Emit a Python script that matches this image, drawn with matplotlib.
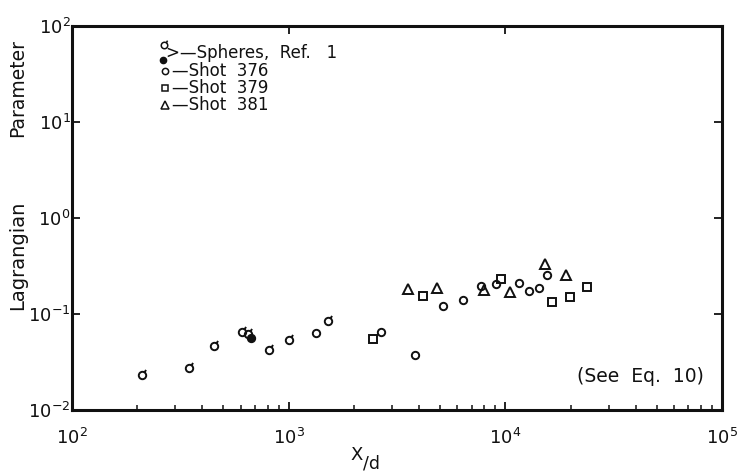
import matplotlib
matplotlib.use("Agg")
import matplotlib.pyplot as plt
from matplotlib.path import Path
from matplotlib.ticker import LogLocator, NullFormatter, LogFormatterMathtext

plt.rcParams['font.family'] = ['DejaVu Sans']
plt.rcParams['mathtext.default'] = 'regular'

# ---- data ----
spheres_open_x = [210, 348, 454, 607, 648, 815, 1000, 1524]
spheres_open_y = [0.0232, 0.0272, 0.0468, 0.0644, 0.062, 0.0422, 0.0536, 0.0845]
spheres_filled_x = [670]
spheres_filled_y = [0.0558]

shot376_x = [1336, 2660, 3828, 5167, 6390, 7690, 9020, 11510, 12850, 14340, 15490]
shot376_y = [0.063, 0.0655, 0.0371, 0.121, 0.140, 0.197, 0.205, 0.209, 0.175, 0.185, 0.255]

shot379_x = [2443, 4180, 9550, 16370, 19870, 23720]
shot379_y = [0.055, 0.155, 0.232, 0.132, 0.151, 0.192]

shot381_x = [3565, 4853, 7965, 10500, 15180, 18970]
shot381_y = [0.181, 0.185, 0.178, 0.168, 0.332, 0.255]

legend_labels = [">—Spheres,  Ref.   1", "—Shot  376", "—Shot  379", "—Shot  381"]
x_ticks = [1e2, 1e3, 1e4, 1e5]
y_ticks = [1e-2, 1e-1, 1e0, 1e1, 1e2]

INK = '#111111'
W, H = 743, 472
fig = plt.figure(figsize=(W / 100, H / 100), dpi=100)
ax = fig.add_axes([72 / W, 1 - 410 / H, (722 - 72) / W, (410 - 26) / H])
ax.set_xscale('log')
ax.set_yscale('log')
ax.set_xlim(1e2, 1e5)
ax.set_ylim(1e-2, 1e2)

# sigma-like marker: circle with a short tail at top right
circ = Path.circle((0, 0), 1.0)
tail = Path([(0.55, 0.83), (0.95, 1.5)], [Path.MOVETO, Path.LINETO])
sigma_marker = Path.make_compound_path(circ, tail)

mk = dict(linestyle='none', color=INK, markerfacecolor='none', markeredgewidth=1.4)
ax.plot(spheres_open_x, spheres_open_y, marker=sigma_marker, markersize=8, **mk)
ax.plot(spheres_filled_x, spheres_filled_y, marker='o', markersize=5.5, linestyle='none',
        color=INK, markerfacecolor=INK, markeredgewidth=1.2)
ax.plot(shot376_x, shot376_y, marker='o', markersize=5.3, **mk)
ax.plot(shot379_x, shot379_y, marker='s', markersize=5.3, **mk)
ax.plot(shot381_x, shot381_y, marker='^', markersize=6.8, **mk)

# spines and ticks
for s in ax.spines.values():
    s.set_linewidth(2.2)
    s.set_color(INK)
ax.set_xticks(x_ticks)
ax.set_yticks(y_ticks)
ax.xaxis.set_major_formatter(LogFormatterMathtext())
ax.yaxis.set_major_formatter(LogFormatterMathtext())
ax.xaxis.set_minor_locator(LogLocator(base=10, subs=range(2, 10)))
ax.xaxis.set_minor_formatter(NullFormatter())
ax.yaxis.set_minor_locator(LogLocator(base=10, subs=[]))
ax.tick_params(axis='both', which='major', direction='in', length=6, width=1.3,
               colors=INK, labelsize=13, top=True, right=True)
ax.tick_params(axis='x', which='minor', direction='in', length=3.5, width=1.1,
               colors=INK, top=False, bottom=True)
ax.tick_params(axis='y', which='minor', left=False, right=False)
ax.tick_params(axis='x', which='major', pad=13)
ax.tick_params(axis='y', which='major', pad=1)

# legend drawn by hand inside the axes (axes-fraction coordinates)
def fx(px):
    return (px - 72) / (722 - 72)

def fy(py):
    return (410 - py) / (410 - 26)

lg = dict(transform=ax.transAxes, linestyle='none', color=INK, clip_on=False)
ax.plot([fx(164)], [fy(45)], marker=sigma_marker, markersize=7, markerfacecolor='none',
        markeredgewidth=1.1, **lg)
ax.plot([fx(163)], [fy(60)], marker='o', markersize=4.5, markerfacecolor=INK, **lg)
ax.plot([fx(165)], [fy(71)], marker='o', markersize=4.5, markerfacecolor='none',
        markeredgewidth=1.1, **lg)
ax.plot([fx(165)], [fy(88)], marker='s', markersize=4.5, markerfacecolor='none',
        markeredgewidth=1.1, **lg)
ax.plot([fx(165)], [fy(105)], marker='^', markersize=5.5, markerfacecolor='none',
        markeredgewidth=1.1, **lg)
for lab, px, py in zip(legend_labels, [166, 172, 172, 172], [53, 71, 88, 105]):
    ax.text(fx(px), fy(py), lab, transform=ax.transAxes,
            fontsize=12, va='center', ha='left', color=INK)

ax.text(fx(640), fy(377), "(See  Eq.  10)", transform=ax.transAxes, fontsize=13.5,
        va='center', ha='center', color=INK)

# axis labels
fig.text(357 / W, 1 - 455 / H, "X", fontsize=13, ha='center', va='center', color=INK)
fig.text(372 / W, 1 - 463 / H, "/d", fontsize=12.5, ha='center', va='center', color=INK)
fig.text(18 / W, 1 - 88 / H, "Parameter", rotation=90, fontsize=13.5, ha='center',
         va='center', color=INK)
fig.text(18 / W, 1 - 255 / H, "Lagrangian", rotation=90, fontsize=14, ha='center',
         va='center', color=INK)

fig.savefig("out.png", dpi=100, facecolor='white')
